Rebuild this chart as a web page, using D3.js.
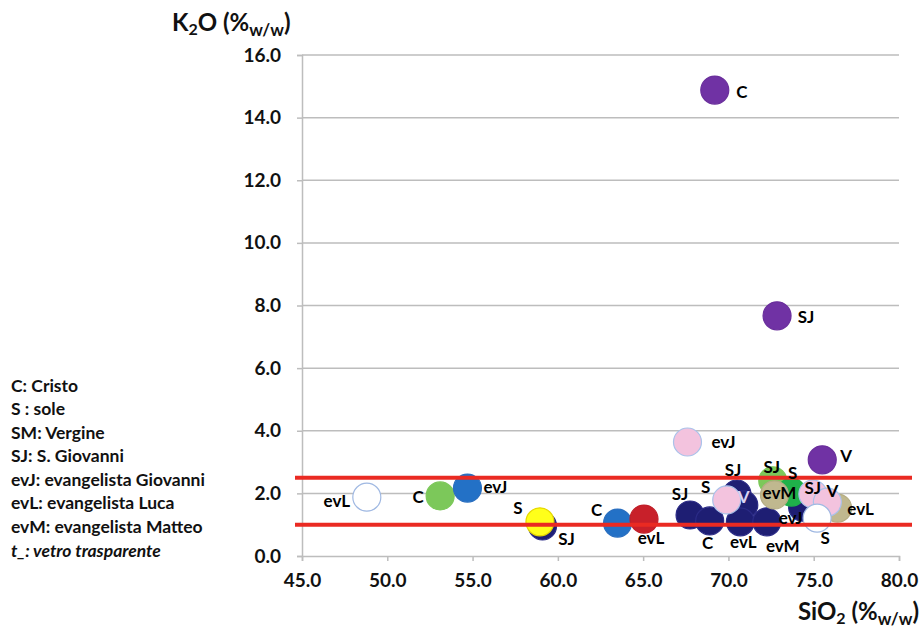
<!DOCTYPE html>
<html>
<head>
<meta charset="utf-8">
<script src="https://cdn.jsdelivr.net/npm/d3@7"></script>
<style>
  html, body { margin: 0; padding: 0; background: #fff; }
  svg { display: block; font-family: Lato, "Open Sans", "DejaVu Sans", sans-serif; }
</style>
</head>
<body>
<svg id="chart" width="923" height="629"></svg>
<script>
// ---------- data ----------
const sampleLabels = ["C","SJ","evJ","V","evL","C","evJ","SJ","S","C","evL",
  "SJ","C","SJ","V","evL","evM","evJ","S","SJ","S","evM","evL","SJ","V","S"];
const sio2 = [69.2, 72.85, 67.6, 75.5, 48.8, 53.1, 54.7, 59.1, 58.95, 63.5, 65.05,
  67.75, 68.9, 70.5, 70.9, 70.7, 72.25, 74.35, 69.9, 72.6, 73.7, 72.7, 76.4, 74.95, 75.8, 75.2];
const k2o = [14.88, 7.67, 3.64, 3.07, 1.88, 1.92, 2.17, 0.96, 1.09, 1.05, 1.18,
  1.31, 1.12, 1.98, 1.63, 1.09, 1.09, 1.56, 1.79, 2.4, 2.04, 1.95, 1.53, 1.98, 1.72, 1.21];
const glassColour = ["viola","viola","rosa","viola","trasparente","verde chiaro","blu","blu scuro","giallo","blu","rosso",
  "blu scuro","blu scuro","blu scuro","blu scuro","blu scuro","blu scuro","blu scuro","rosa","verde chiaro","verde","beige","beige","rosa","rosa","trasparente"];
const thresholds = [1.0, 2.5];
const xTicks = [45, 50, 55, 60, 65, 70, 75, 80];
const yTicks = [0, 2, 4, 6, 8, 10, 12, 14, 16];
const legendLines = ["C: Cristo","S : sole","SM: Vergine","SJ: S. Giovanni",
  "evJ: evangelista Giovanni","evL: evangelista Luca","evM: evangelista Matteo"];
const legendItalic = ["t_", ": vetro trasparente"];

// ---------- styles / layout ----------
const fills = {
  "viola": ["#7032a4", "#6a2f9c"],
  "rosa": ["#f3c3de", "#a9c2ea"],
  "trasparente": ["#ffffff", "#9fb8e2"],
  "verde chiaro": ["#7cc85a", "#7cc85a"],
  "blu": ["#2371c6", "#2a6fc0"],
  "blu scuro": ["#1e1e73", "#2b2b86"],
  "giallo": ["#ffff1a", "#e6d800"],
  "rosso": ["#c8202a", "#c01e28"],
  "verde": ["#1fb14a", "#1fb14a"],
  "beige": ["#c0b88f", "#b5ad84"]
};
// label offsets (dx, dy) from each point centre, in pixels
const labelOffset = [[27,1],[29,1],[36,-1],[24,-4],[-30,3],[-22,1],[28,-2],[24,13],[-22,-14],[-21,-14],[7,18],
  [-10,-21],[-2,22],[-4,-25],[0,-8],[3,20],[16,24],[-12,10],[-21,-13],[-1,-14],[1,-20],[5,-2],[23,0],[0,-7],[5,-12],[8,19]];
const labelFill = i => (i === 14 ? "#d9d2f2" : "#000");

const m = { left: 302, right: 899, top: 55, bottom: 556 };
const svg = d3.select("#chart");

const x = d3.scaleLinear().domain([45, 80]).range([m.left, m.right]);
const y = d3.scaleLinear().domain([0, 16]).range([m.bottom, m.top]);

const gridCol = "#bdbdbd";

// horizontal gridlines
svg.append("g").selectAll("line").data(yTicks.filter(d => d > 0)).join("line")
  .attr("x1", m.left).attr("x2", m.right)
  .attr("y1", d => y(d)).attr("y2", d => y(d))
  .attr("stroke", gridCol).attr("stroke-width", 1.5);

// y axis
const yAxis = svg.append("g").attr("transform", `translate(${m.left},0)`)
  .call(d3.axisLeft(y).tickValues(yTicks).tickFormat(d3.format(".1f")).tickSize(5).tickPadding(16));
// x axis
const xAxis = svg.append("g").attr("transform", `translate(0,${m.bottom})`)
  .call(d3.axisBottom(x).tickValues(xTicks).tickFormat(d3.format(".1f")).tickSize(5).tickPadding(13));
[yAxis, xAxis].forEach(g => {
  g.select(".domain").attr("stroke", gridCol).attr("stroke-width", 1.5);
  g.selectAll(".tick line").attr("stroke", gridCol).attr("stroke-width", 1.5);
  g.selectAll(".tick text").attr("fill", "#111").attr("font-size", 19)
    .attr("font-weight", "bold").attr("font-family", "Lato, sans-serif");
});

// points
const idx = d3.range(sio2.length);
svg.append("g").selectAll("circle").data(idx).join("circle")
  .attr("cx", i => x(sio2[i])).attr("cy", i => y(k2o[i])).attr("r", 14)
  .attr("fill", i => fills[glassColour[i]][0])
  .attr("stroke", i => fills[glassColour[i]][1]).attr("stroke-width", 1.2);

// threshold lines
svg.append("g").selectAll("line").data(thresholds).join("line")
  .attr("x1", m.left - 7).attr("x2", m.right + 13)
  .attr("y1", d => y(d)).attr("y2", d => y(d))
  .attr("stroke", "#ea2a22").attr("stroke-width", 4);

// point labels
svg.append("g").selectAll("text").data(idx).join("text")
  .attr("x", i => x(sio2[i]) + labelOffset[i][0])
  .attr("y", i => y(k2o[i]) + labelOffset[i][1])
  .attr("text-anchor", "middle").attr("dominant-baseline", "central")
  .attr("font-size", 17).attr("font-weight", "bold").attr("fill", labelFill)
  .text(i => sampleLabels[i]);

// axis titles
const yt = svg.append("text").attr("x", 172).attr("y", 31)
  .attr("font-size", 24).attr("font-weight", "bold").attr("fill", "#111");
yt.append("tspan").text("K");
yt.append("tspan").attr("font-size", 16).attr("dy", 4).text("2");
yt.append("tspan").attr("dy", -4).text("O (%");
yt.append("tspan").attr("font-size", 17).attr("dy", 5).text("w/w");
yt.append("tspan").attr("dy", -5).text(")");

const xt = svg.append("text").attr("x", 919).attr("y", 620).attr("text-anchor", "end")
  .attr("font-size", 24).attr("font-weight", "bold").attr("fill", "#111");
xt.append("tspan").text("SiO");
xt.append("tspan").attr("font-size", 16).attr("dy", 4).text("2");
xt.append("tspan").attr("dy", -4).text(" (%");
xt.append("tspan").attr("font-size", 17).attr("dy", 5).text("w/w");
xt.append("tspan").attr("dy", -5).text(")");

// legend text
const leg = svg.append("g").attr("font-size", 17.5).attr("font-weight", "bold").attr("fill", "#111");
leg.selectAll("text").data(legendLines).join("text")
  .attr("x", 11).attr("y", (d, i) => 385 + i * 23.5)
  .attr("dominant-baseline", "central").text(d => d);
const it = leg.append("text").attr("x", 11).attr("y", 385 + 7 * 23.5)
  .attr("dominant-baseline", "central").attr("font-style", "italic");
it.append("tspan").text(legendItalic[0]);
it.append("tspan").text(legendItalic[1]);
</script>
</body>
</html>
